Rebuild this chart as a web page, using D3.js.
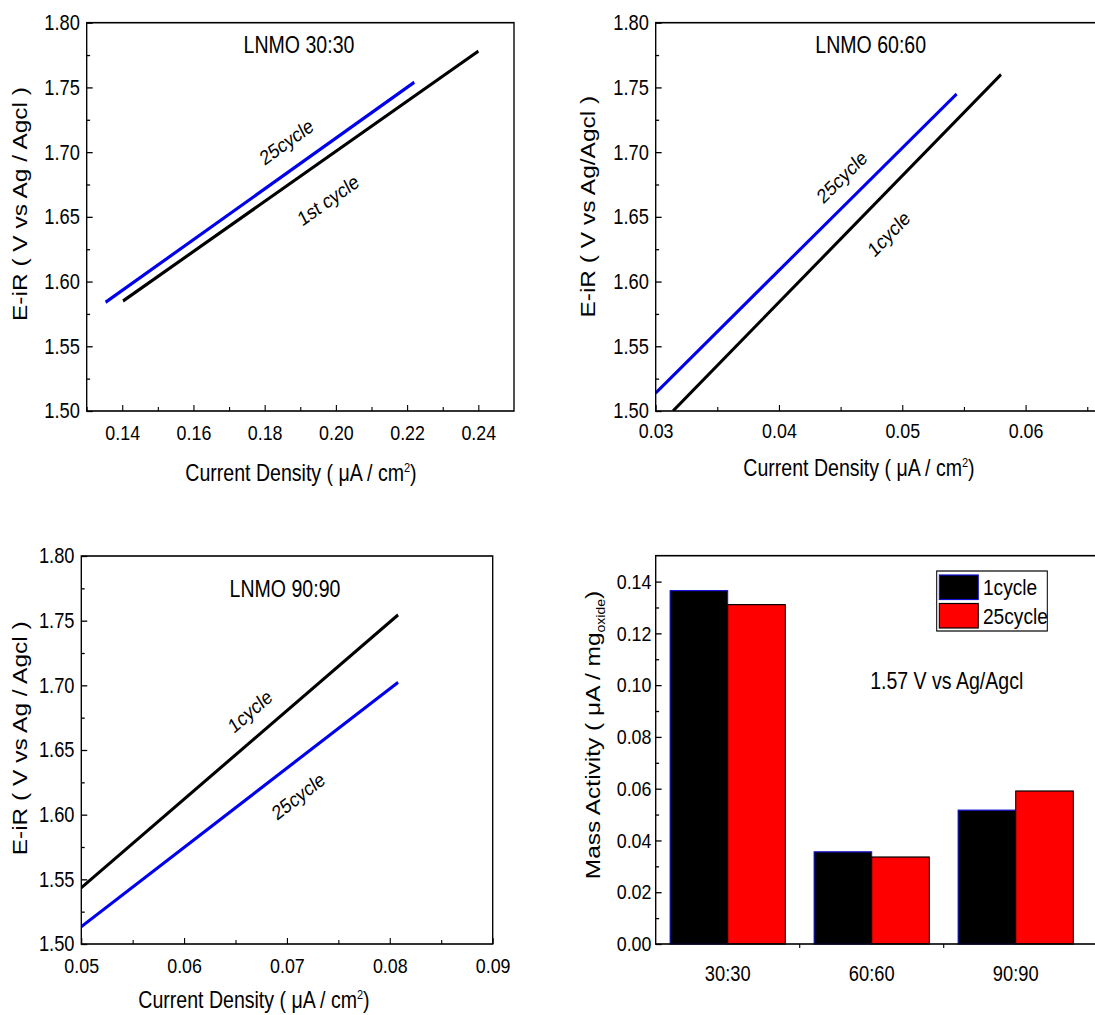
<!DOCTYPE html>
<html lang="en">
<head>
  <meta charset="UTF-8">
  <script src="https://d3js.org/d3.v7.min.js"></script>
  <title>LNMO Tafel / mass activity</title>
  <style>
    body { margin: 0; background: #fff; }
    text { font-family: "Liberation Sans", Arial, sans-serif; fill: #000; }
  </style>
</head>
<body>
  <svg width="1095" height="1015"></svg>
  <script>
    // data
    var voltTicks = [1.50, 1.55, 1.60, 1.65, 1.70, 1.75, 1.80];
    var voltMinor = [1.525, 1.575, 1.625, 1.675, 1.725, 1.775];

    var lnmo30Ticks = [0.14, 0.16, 0.18, 0.20, 0.22, 0.24];
    var lnmo30Minor = [0.13, 0.15, 0.17, 0.19, 0.21, 0.23];
    var lnmo30_c1_x = [0.1402, 0.2400];
    var lnmo30_c1_y = [1.585, 1.778];
    var lnmo30_c25_x = [0.1353, 0.2220];
    var lnmo30_c25_y = [1.584, 1.754];

    var lnmo60Ticks = [0.03, 0.04, 0.05, 0.06];
    var lnmo60Minor = [0.035, 0.045, 0.055, 0.065];
    var lnmo60_c1_x = [0.0314, 0.0580];
    var lnmo60_c1_y = [1.500, 1.760];
    var lnmo60_c25_x = [0.0300, 0.0544];
    var lnmo60_c25_y = [1.514, 1.745];

    var lnmo90Ticks = [0.05, 0.06, 0.07, 0.08, 0.09];
    var lnmo90Minor = [0.055, 0.065, 0.075, 0.085];
    var lnmo90_c1_x = [0.0500, 0.0808];
    var lnmo90_c1_y = [1.5435, 1.7545];
    var lnmo90_c25_x = [0.0500, 0.0808];
    var lnmo90_c25_y = [1.5134, 1.7023];

    var categories = ["30:30", "60:60", "90:90"];
    var series = ["1cycle", "25cycle"];
    var mass1cycle = [0.1365, 0.0356, 0.0517];
    var mass25cycle = [0.1311, 0.0336, 0.0591];
    var massTicks = [0.00, 0.02, 0.04, 0.06, 0.08, 0.10, 0.12, 0.14];
    var massMinor = [0.01, 0.03, 0.05, 0.07, 0.09, 0.11, 0.13];

    // the original picture is squeezed sideways, so everything is drawn wider and scaled back
    var K = 0.85;
    function ix(p) { return p / K; }

    var svg = d3.select("svg");
    var defs = svg.append("defs");
    var root = svg.append("g").attr("transform", "scale(" + K + ",1)");
    var clipId = 0;

    function styleAxis(sel, size) {
      sel.select(".domain").remove();
      sel.attr("font-family", null).attr("font-size", null);
      sel.selectAll("line").attr("stroke", "#000").attr("stroke-width", 1.3);
      sel.selectAll("text").attr("font-size", size);
    }

    function xTitle(g, cx, base) {
      var t = g.append("text").attr("x", ix(cx)).attr("y", base)
        .attr("text-anchor", "middle").attr("font-size", 23);
      t.append("tspan").text("Current Density ( μA / cm");
      t.append("tspan").attr("font-size", 13).attr("dy", -9).text("2");
      t.append("tspan").attr("dy", 9).text(")");
    }

    function yTitle(g, cx, cy, label) {
      g.append("text")
        .attr("transform", "translate(" + ix(cx) + "," + cy + ") rotate(-90)")
        .attr("text-anchor", "middle").attr("dy", "0.35em")
        .attr("font-size", 24.5).text(label);
    }

    function linePanel(o) {
      var g = root.append("g");
      var x = d3.scaleLinear().domain(o.xDomain).range([ix(o.left), ix(o.right)]);
      var y = d3.scaleLinear().domain([1.5, 1.8]).range([o.bottom, o.top]);

      var id = "clip" + (clipId++);
      defs.append("clipPath").attr("id", id).append("rect")
        .attr("x", ix(o.left)).attr("y", o.top)
        .attr("width", ix(o.right) - ix(o.left)).attr("height", o.bottom - o.top);

      // curves
      var line = d3.line().x(function(d){ return x(d[0]) }).y(function(d){ return y(d[1]) });
      var lines = g.append("g").attr("clip-path", "url(#" + id + ")");
      o.curves.forEach(function(c) {
        lines.append("path")
          .attr("d", line(d3.zip(c.x, c.y)))
          .attr("fill", "none").attr("stroke", c.color).attr("stroke-width", 3.3);
        var dx = x(c.x[1]) - x(c.x[0]), dy = y(c.y[1]) - y(c.y[0]);
        var ang = Math.atan2(dy, dx) * 180 / Math.PI;
        g.append("text")
          .attr("transform", "translate(" + x(c.lx) + "," + y(c.ly) + ") rotate(" + ang + ")")
          .attr("text-anchor", "middle").attr("dy", "0.35em")
          .attr("font-size", 20.5).text(c.label);
      });

      // frame
      g.append("rect")
        .attr("x", ix(o.left)).attr("y", o.top)
        .attr("width", ix(o.right) - ix(o.left)).attr("height", o.bottom - o.top)
        .attr("fill", "none").attr("stroke", "#000").attr("stroke-width", 1.6);

      // axes, ticks pointing inwards
      g.append("g").attr("transform", "translate(" + ix(o.left) + ",0)")
        .call(d3.axisLeft(y).tickValues(voltTicks).tickSize(-7).tickPadding(8).tickFormat(d3.format(".2f")))
        .call(styleAxis, 21.5);
      g.append("g").attr("transform", "translate(" + ix(o.left) + ",0)")
        .call(d3.axisLeft(y).tickValues(voltMinor).tickSize(-4).tickFormat(""))
        .call(styleAxis, 21.5);
      g.append("g").attr("transform", "translate(0," + o.bottom + ")")
        .call(d3.axisBottom(x).tickValues(o.xTicks).tickSize(-6).tickPadding(o.xPad).tickFormat(d3.format(".2f")))
        .call(styleAxis, 21);
      g.append("g").attr("transform", "translate(0," + o.bottom + ")")
        .call(d3.axisBottom(x).tickValues(o.xMinor).tickSize(-4).tickFormat(""))
        .call(styleAxis, 21);

      g.append("text").attr("x", ix(o.titleX)).attr("y", o.titleY)
        .attr("text-anchor", "middle").attr("font-size", 23).text(o.title);
      xTitle(g, o.xTitleX, o.xTitleY);
      yTitle(g, o.yTitleX, o.yTitleY, o.yLabel);
    }

    linePanel({
      left: 86.7, right: 514, top: 22.7, bottom: 411,
      xDomain: [0.13, 0.25], xTicks: lnmo30Ticks, xMinor: lnmo30Minor, xPad: 14,
      title: "LNMO 30:30", titleX: 299, titleY: 53,
      xTitleX: 301, xTitleY: 481,
      yLabel: "E-iR ( V vs Ag / Agcl )", yTitleX: 20, yTitleY: 204,
      curves: [
        { x: lnmo30_c25_x, y: lnmo30_c25_y, color: "#0000ee", label: "25cycle", lx: 0.1861, ly: 1.708 },
        { x: lnmo30_c1_x, y: lnmo30_c1_y, color: "#000", label: "1st cycle", lx: 0.1978, ly: 1.663 }
      ]
    });

    linePanel({
      left: 655.7, right: 1112, top: 22.7, bottom: 411,
      xDomain: [0.03, 0.067], xTicks: lnmo60Ticks, xMinor: lnmo60Minor, xPad: 12,
      title: "LNMO 60:60", titleX: 870.7, titleY: 53,
      xTitleX: 859, xTitleY: 476,
      yLabel: "E-iR ( V vs Ag/Agcl )", yTitleX: 588, yTitleY: 206.7,
      curves: [
        { x: lnmo60_c25_x, y: lnmo60_c25_y, color: "#0000ee", label: "25cycle", lx: 0.0451, ly: 1.681 },
        { x: lnmo60_c1_x, y: lnmo60_c1_y, color: "#000", label: "1cycle", lx: 0.0489, ly: 1.637 }
      ]
    });

    linePanel({
      left: 81.3, right: 492.7, top: 556, bottom: 944,
      xDomain: [0.05, 0.09], xTicks: lnmo90Ticks, xMinor: lnmo90Minor, xPad: 14,
      title: "LNMO 90:90", titleX: 285, titleY: 596.7,
      xTitleX: 254, xTitleY: 1008,
      yLabel: "E-iR ( V vs Ag / Agcl )", yTitleX: 20, yTitleY: 738.3,
      curves: [
        { x: lnmo90_c1_x, y: lnmo90_c1_y, color: "#000", label: "1cycle", lx: 0.0664, ly: 1.680 },
        { x: lnmo90_c25_x, y: lnmo90_c25_y, color: "#0000ee", label: "25cycle", lx: 0.0711, ly: 1.6144 }
      ]
    });

    // mass activity bars
    var b = { left: 655.7, right: 1112, top: 555.7, bottom: 944 };
    var gb = root.append("g");
    var xb = d3.scaleBand().domain(categories).range([ix(655.7), ix(1087.7)])
      .paddingInner(0.2).paddingOuter(0.1);
    var xs = d3.scaleBand().domain(series).range([0, xb.bandwidth()]);
    var yb = d3.scaleLinear().domain([0, 0.15]).range([b.bottom, b.top]);
    var fills = { "1cycle": "#000", "25cycle": "#ff0000" };
    var edges = { "1cycle": "#1010d0", "25cycle": "#000" };

    var rows = categories.map(function(c, i) {
      return [{ cat: c, s: "1cycle", v: mass1cycle[i] }, { cat: c, s: "25cycle", v: mass25cycle[i] }];
    });
    gb.selectAll(".grp").data(rows).enter().append("g")
      .selectAll("rect").data(function(d){ return d }).enter().append("rect")
      .attr("x", function(d){ return xb(d.cat) + xs(d.s) })
      .attr("y", function(d){ return yb(d.v) })
      .attr("width", xs.bandwidth())
      .attr("height", function(d){ return b.bottom - yb(d.v) })
      .attr("fill", function(d){ return fills[d.s] })
      .attr("stroke", function(d){ return edges[d.s] })
      .attr("stroke-width", 1.2);

    gb.append("rect")
      .attr("x", ix(b.left)).attr("y", b.top)
      .attr("width", ix(b.right) - ix(b.left)).attr("height", b.bottom - b.top)
      .attr("fill", "none").attr("stroke", "#000").attr("stroke-width", 1.6);

    gb.append("g").attr("transform", "translate(" + ix(b.left) + ",0)")
      .call(d3.axisLeft(yb).tickValues(massTicks).tickSize(-7).tickPadding(5).tickFormat(d3.format(".2f")))
      .call(styleAxis, 21);
    gb.append("g").attr("transform", "translate(" + ix(b.left) + ",0)")
      .call(d3.axisLeft(yb).tickValues(massMinor).tickSize(-4).tickFormat(""))
      .call(styleAxis, 21);
    gb.append("g").attr("transform", "translate(0," + b.bottom + ")")
      .call(d3.axisBottom(xb).tickSize(0).tickPadding(22))
      .call(styleAxis, 21.5);
    // small ticks between the groups
    var cuts = categories.slice(1).map(function(c){ return xb(c) - xb.step() * xb.paddingInner() / 2 });
    gb.selectAll(".cut").data(cuts).enter().append("line")
      .attr("x1", function(d){ return d }).attr("x2", function(d){ return d })
      .attr("y1", b.bottom).attr("y2", b.bottom + 4)
      .attr("stroke", "#000").attr("stroke-width", 1.3);

    // legend
    var lg = gb.append("g");
    lg.append("rect").attr("x", ix(936.7)).attr("y", 571)
      .attr("width", ix(1047.3) - ix(936.7)).attr("height", 60)
      .attr("fill", "#fff").attr("stroke", "#000").attr("stroke-width", 1.2);
    series.forEach(function(s, i) {
      var top = 575 + i * 28.5;
      lg.append("rect").attr("x", ix(939.3)).attr("y", top)
        .attr("width", ix(978.3) - ix(939.3)).attr("height", 24.5)
        .attr("fill", fills[s]).attr("stroke", edges[s]).attr("stroke-width", 1.2);
      lg.append("text").attr("x", ix(983)).attr("y", top + 20.5)
        .attr("font-size", 22.5).text(s);
    });

    gb.append("text").attr("x", ix(946.7)).attr("y", 689)
      .attr("text-anchor", "middle").attr("font-size", 23).text("1.57 V vs Ag/Agcl");

    var mt = gb.append("text")
      .attr("transform", "translate(" + ix(592.5) + ",735) rotate(-90)")
      .attr("text-anchor", "middle").attr("dy", "0.35em").attr("font-size", 24.5);
    mt.append("tspan").text("Mass Activity ( μA / mg");
    mt.append("tspan").attr("font-size", 14).attr("dy", 6).text("oxide");
    mt.append("tspan").attr("dy", -6).text(")");
  </script>
</body>
</html>
